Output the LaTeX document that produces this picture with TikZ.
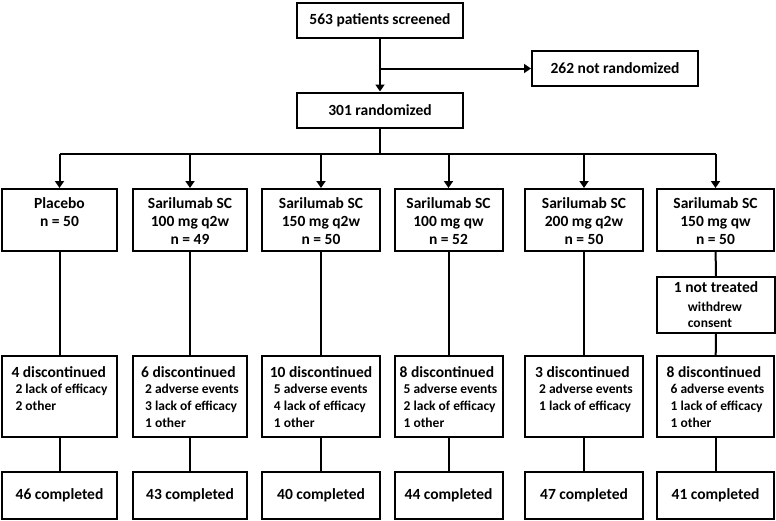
\documentclass[tikz,border=0pt]{standalone}
\usepackage{fontspec}
\setmainfont{Carlito}
\usepackage{tikz}
\usetikzlibrary{arrows.meta}
\newcommand{\dhead}[1]{{\fontsize{15.5}{18}\selectfont #1}}
\newcommand{\dline}[1]{\hspace*{4pt}#1}
\newcommand{\topc}[1]{\begin{tabular}[t]{@{}c@{}}#1\end{tabular}}
\newcommand{\topl}[1]{\begin{tabular}[t]{@{}l@{}}#1\end{tabular}}

\begin{document}
\begin{tikzpicture}[x=1pt,y=-1pt,line width=2pt,>={Triangle[length=7pt,width=9pt]},
  box/.style={draw,inner sep=0pt,font=\bfseries\fontsize{15.5}{18}\selectfont},
  headbox/.style={box,minimum width=166pt,minimum height=35pt},
  armbox/.style={box,text height=19pt,text depth=43pt},
  discbox/.style={box,font=\bfseries\fontsize{13.5}{16.7}\selectfont,text height=21pt,text depth=60pt},
  compbox/.style={box,minimum height=47pt}]
\useasboundingbox (0,0) rectangle (776,520);

\node[headbox] (screen) at (380,20) {563 patients screened};
\node[headbox] (notrand) at (615,68.5) {262 not randomized};
\node[headbox] (rand) at (380,110) {301 randomized};

% treatment arms
\node[armbox,minimum width=115pt] (placebo) at (59.5,220) {\topc{Placebo\\n = 50}};
\node[armbox,minimum width=114pt] (q2w100) at (190,220) {\topc{Sarilumab SC\\100 mg q2w\\n = 49}};
\node[armbox,minimum width=118pt] (q2w150) at (321,220) {\topc{Sarilumab SC\\150 mg q2w\\n = 50}};
\node[armbox,minimum width=108pt] (qw100) at (448.5,220) {\topc{Sarilumab SC\\100 mg qw\\n = 52}};
\node[armbox,minimum width=118pt] (q2w200) at (584,220) {\topc{Sarilumab SC\\200 mg q2w\\n = 50}};
\node[armbox,minimum width=117pt] (qw150) at (715.5,220) {\topc{Sarilumab SC\\150 mg qw\\n = 50}};

\node[box,minimum width=118pt,font=\bfseries\fontsize{13.5}{16}\selectfont,text height=15pt,text depth=41pt] (nottreated) at (716,305)
  {\topl{\dhead{1 not treated}\\[3pt]\hspace*{14pt}withdrew\\\hspace*{14pt}consent}};

% discontinued
\node[discbox,minimum width=115pt] (dplacebo) at (59.5,396.5) {\topl{\dhead{4 discontinued}\\\dline{2 lack of efficacy}\\\dline{2 other}}};
\node[discbox,minimum width=114pt] (dq2w100) at (190,396.5) {\topl{\dhead{6 discontinued}\\\dline{2 adverse events}\\\dline{3 lack of efficacy}\\\dline{1 other}}};
\node[discbox,minimum width=118pt] (dq2w150) at (321,396.5) {\topl{\dhead{10 discontinued}\\\dline{5 adverse events}\\\dline{4 lack of efficacy}\\\dline{1 other}}};
\node[discbox,minimum width=108pt] (dqw100) at (448.5,396.5) {\topl{\dhead{8 discontinued}\\\dline{5 adverse events}\\\dline{2 lack of efficacy}\\\dline{1 other}}};
\node[discbox,minimum width=118pt] (dq2w200) at (584,396.5) {\topl{\dhead{3 discontinued}\\\dline{2 adverse events}\\\dline{1 lack of efficacy}}};
\node[discbox,minimum width=117pt] (dqw150) at (715.5,396.5) {\topl{\dhead{8 discontinued}\\\dline{6 adverse events}\\\dline{1 lack of efficacy}\\\dline{1 other}}};

% completed
\node[compbox,minimum width=115pt] (cplacebo) at (59.5,495.5) {46 completed};
\node[compbox,minimum width=114pt] (cq2w100) at (190,495.5) {43 completed};
\node[compbox,minimum width=118pt] (cq2w150) at (321,495.5) {40 completed};
\node[compbox,minimum width=108pt] (cqw100) at (448.5,495.5) {44 completed};
\node[compbox,minimum width=118pt] (cq2w200) at (584,495.5) {47 completed};
\node[compbox,minimum width=117pt] (cqw150) at (715.5,495.5) {41 completed};

\coordinate (split) at (screen.south |- notrand.west);
\coordinate (bus) at (0,154);
\draw[->] (screen) -- (rand);
\draw[->] (split) -- (notrand);
\draw (rand) -- (rand.south |- bus);
\draw (placebo.north |- bus) -- (qw150.north |- bus);
\foreach \arm in {placebo,q2w100,q2w150,qw100,q2w200,qw150}
  \draw[->] (\arm.north |- bus) -- (\arm);
\foreach \arm in {placebo,q2w100,q2w150,qw100,q2w200}
  \draw (\arm) -- (d\arm);
\draw (qw150) -- (nottreated);
\draw (nottreated) -- (dqw150);
\foreach \arm in {placebo,q2w100,q2w150,qw100,q2w200,qw150}
  \draw (d\arm) -- (c\arm);
\end{tikzpicture}
\end{document}
